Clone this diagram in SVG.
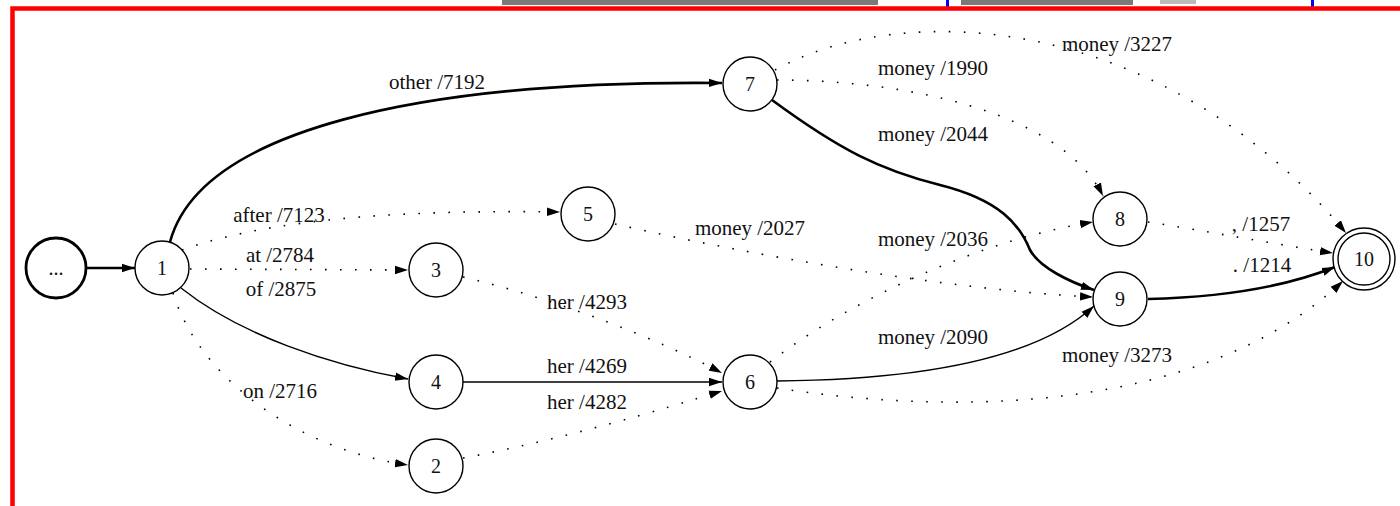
<svg xmlns="http://www.w3.org/2000/svg" width="1400" height="506" viewBox="0 0 1400 506">
<style>
  text { font-family: "Liberation Serif", "DejaVu Serif", "Noto Serif", serif; font-size: 21px; fill: #111; }
  .lbl { text-anchor: middle; }
  .nlbl { text-anchor: middle; dominant-baseline: central; font-size: 20px; }
  .node { fill: #fff; stroke: #000; stroke-width: 1.4; }
  .thick { fill: none; stroke: #000; stroke-width: 2.6; }
  .solid { fill: none; stroke: #000; stroke-width: 1.4; }
  .dot { fill: none; stroke: #000; stroke-width: 1.6; stroke-dasharray: 1.6 13.4; }
</style>
<defs>
  <marker id="arr" markerUnits="userSpaceOnUse" markerWidth="14" markerHeight="10" refX="13" refY="5" orient="auto">
    <path d="M0,0.8 L13,5 L0,9.2 Z" fill="#000"/>
  </marker>
</defs>
<rect width="1400" height="506" fill="#fff"/>
<g id="frame">
  <rect x="502" y="0" width="376" height="5" fill="#222" opacity="0.6"/>
  <rect x="961" y="0" width="172" height="5" fill="#222" opacity="0.6"/>
  <rect x="1160" y="0" width="36" height="4" fill="#777" opacity="0.5"/>
  <rect x="946" y="0" width="3" height="7" fill="#00f"/>
  <rect x="1311" y="0" width="3" height="7" fill="#00f"/>
  <path d="M12.5,506 L12.5,8.5 L1400,8.5" fill="none" stroke="#f00" stroke-width="4.5"/>
</g>
<g id="connectors">
  <path class="thick" d="M87,268 L135,268" marker-end="url(#arr)"/>
  <path class="thick" d="M170,242 C200,130 420,80 722,83" marker-end="url(#arr)"/>
  <path class="dot" d="M182,250 C280,215 430,210 560,212" marker-end="url(#arr)"/>
  <path class="dot" d="M190,269 L408,270" marker-end="url(#arr)"/>
  <path class="solid" d="M181,288 C240,335 330,365 408,379" marker-end="url(#arr)"/>
  <path class="dot" d="M173,293 C200,380 300,450 408,465" marker-end="url(#arr)"/>
  <path class="dot" d="M463,277 C560,300 660,340 722,373" marker-end="url(#arr)"/>
  <path class="solid" d="M463,382 L722,382" marker-end="url(#arr)"/>
  <path class="dot" d="M463,458 C560,440 660,410 722,391" marker-end="url(#arr)"/>
  <path class="dot" d="M615,224 C750,255 950,290 1093,297" marker-end="url(#arr)"/>
  <path class="dot" d="M770,362 C850,300 980,240 1093,222" marker-end="url(#arr)"/>
  <path class="solid" d="M777,381 C900,380 1030,365 1094,306" marker-end="url(#arr)"/>
  <path class="dot" d="M777,388 C950,415 1200,415 1343,281" marker-end="url(#arr)"/>
  <path class="dot" d="M777,80 C900,80 1060,110 1103,196" marker-end="url(#arr)"/>
  <path class="thick" d="M772,100 C840,150 880,170 940,185 C1000,200 1020,225 1030,250 C1040,268 1070,282 1094,290" marker-end="url(#arr)"/>
  <path class="dot" d="M775,70 C900,0 1160,10 1346,233" marker-end="url(#arr)"/>
  <path class="dot" d="M1148,222 C1200,230 1280,245 1333,253" marker-end="url(#arr)"/>
  <path class="thick" d="M1148,299 C1230,297 1290,285 1335,267" marker-end="url(#arr)"/>
</g>
<g id="labels">
  <text class="lbl" x="437" y="89">other /7192</text>
  <text class="lbl" x="279" y="222">after /7123</text>
  <text class="lbl" x="280" y="262">at /2784</text>
  <text class="lbl" x="281" y="296">of /2875</text>
  <text class="lbl" x="280" y="398">on /2716</text>
  <text class="lbl" x="587" y="309">her /4293</text>
  <text class="lbl" x="587" y="373">her /4269</text>
  <text class="lbl" x="587" y="409">her /4282</text>
  <text class="lbl" x="750" y="235">money /2027</text>
  <text class="lbl" x="933" y="75">money /1990</text>
  <text class="lbl" x="933" y="141">money /2044</text>
  <text class="lbl" x="933" y="246">money /2036</text>
  <text class="lbl" x="933" y="344">money /2090</text>
  <text class="lbl" x="1117" y="362">money /3273</text>
  <text class="lbl" x="1117" y="51">money /3227</text>
  <text class="lbl" x="1261" y="231">, /1257</text>
  <text class="lbl" x="1262" y="272">. /1214</text>
</g>
<g id="node-start"><circle cx="56" cy="268" r="30" fill="#fff" stroke="#000" stroke-width="2.8"/><text class="nlbl" x="56" y="268">...</text></g>
<g id="node-1"><circle class="node" cx="162" cy="268" r="27"/><text class="nlbl" x="162" y="268">1</text></g>
<g id="node-2"><circle class="node" cx="436" cy="466" r="27"/><text class="nlbl" x="436" y="466">2</text></g>
<g id="node-3"><circle class="node" cx="436" cy="270" r="27"/><text class="nlbl" x="436" y="270">3</text></g>
<g id="node-4"><circle class="node" cx="436" cy="382" r="27"/><text class="nlbl" x="436" y="382">4</text></g>
<g id="node-5"><circle class="node" cx="588" cy="214" r="27"/><text class="nlbl" x="588" y="214">5</text></g>
<g id="node-6"><circle class="node" cx="750" cy="382" r="27"/><text class="nlbl" x="750" y="382">6</text></g>
<g id="node-7"><circle class="node" cx="750" cy="84" r="27"/><text class="nlbl" x="750" y="84">7</text></g>
<g id="node-8"><circle class="node" cx="1120" cy="219" r="27"/><text class="nlbl" x="1120" y="219">8</text></g>
<g id="node-9"><circle class="node" cx="1120" cy="299" r="27"/><text class="nlbl" x="1120" y="299">9</text></g>
<g id="node-10"><circle class="node" cx="1364" cy="259" r="31"/><circle class="node" cx="1364" cy="259" r="26"/><text class="nlbl" x="1364" y="259">10</text></g>
</svg>
